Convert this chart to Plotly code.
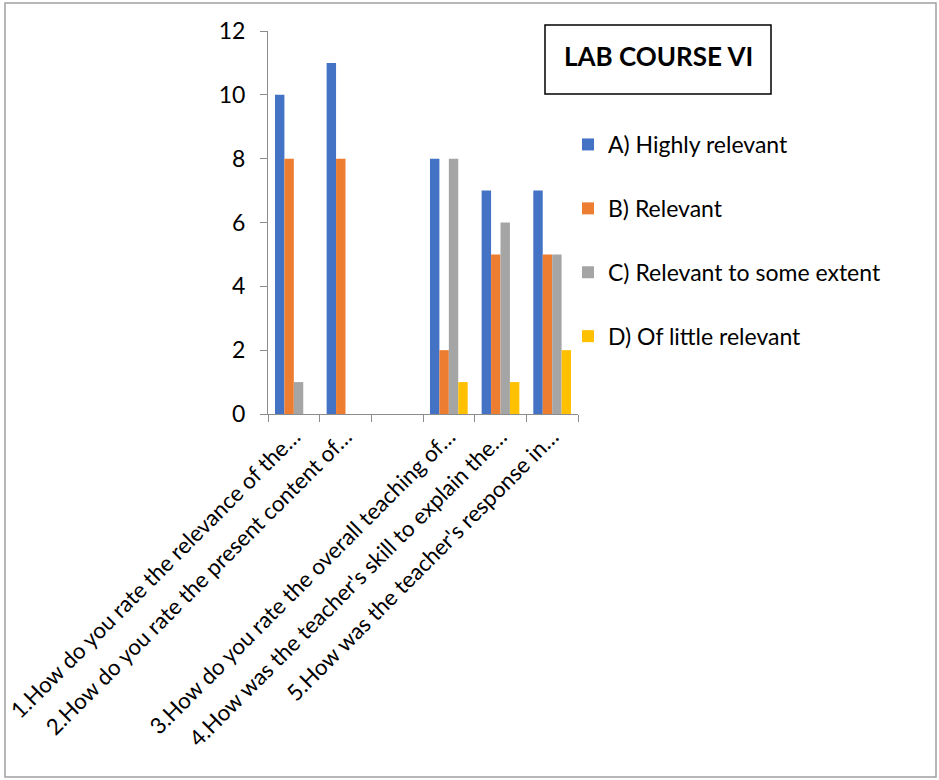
import plotly.graph_objects as go

questions = [
    "1.How do you rate the relevance of the…",
    "2.How do you rate the present content of…",
    " ",
    "3.How do you rate the overall teaching of…",
    "4.How was the teacher's skill to explain the…",
    "5.How was the teacher's response in…",
]
highly_relevant = [10, 11, 0, 8, 7, 7]
relevant = [8, 8, 0, 2, 5, 5]
some_extent = [1, 0, 0, 8, 6, 5]
little_relevant = [0, 0, 0, 1, 1, 2]

series = [
    ("A) Highly relevant", highly_relevant, "#4472C4"),
    ("B) Relevant", relevant, "#ED7D31"),
    ("C) Relevant to some extent", some_extent, "#A5A5A5"),
    ("D) Of little relevant", little_relevant, "#FFC000"),
]

FONT = "Lato, Calibri, sans-serif"

fig = go.Figure()
for i, (name, vals, color) in enumerate(series):
    fig.add_trace(go.Bar(
        x=questions, y=vals, name=name,
        marker=dict(color=color, line=dict(width=0)),
        legendgroup=str(i)
    ))

# plot area in pixels: x 268-578, y 31-414
W, H = 939, 780
L, R, T, B = 268, 578, 31, 414


def px(x):
    return (x - L) / (R - L)


def py(y):
    return (B - y) / (B - T)


fig.update_layout(
    width=W, height=H,
    margin=dict(l=L, r=W - R, t=T, b=H - B, autoexpand=False),
    paper_bgcolor="white", plot_bgcolor="white",
    font=dict(family=FONT, color="#000000"),
    barmode="group", bargap=0.27, bargroupgap=0,
    showlegend=True,
    legend=dict(
        x=px(568), y=py(123), xanchor="left", yanchor="top",
        font=dict(size=23, color="#000000"),
        tracegroupgap=31, bgcolor="rgba(0,0,0,0)"
    ),
    xaxis=dict(
        type="category", showgrid=False,
        showline=True, linecolor="#8C8C8C", linewidth=1,
        ticks="outside", tickson="boundaries", ticklen=7, tickcolor="#8C8C8C",
        tickangle=-45, tickfont=dict(size=22.3, color="#000000")
    ),
    yaxis=dict(
        range=[0, 12], dtick=2, showgrid=False,
        showline=True, linecolor="#8C8C8C", linewidth=1,
        ticks="outside", ticklen=7, tickcolor="#8C8C8C",
        ticklabelstandoff=10,
        tickfont=dict(size=23, color="#000000"), zeroline=False
    ),
    shapes=[
        dict(type="rect", xref="paper", yref="paper",
             x0=px(5), x1=px(936), y0=py(777), y1=py(3),
             line=dict(color="#A0A0A0", width=1.5), layer="below"),
        dict(type="rect", xref="paper", yref="paper",
             x0=px(545), x1=px(771), y0=py(94), y1=py(25),
             line=dict(color="#000000", width=1.5)),
    ],
    annotations=[
        dict(text="<b>LAB COURSE VI</b>", xref="paper", yref="paper",
             x=px(658), y=py(56), xanchor="center", yanchor="middle",
             showarrow=False, font=dict(size=26, color="#000000"))
    ],
)

fig.write_html("out.html", config={"displayModeBar": False},
               post_script="document.body.style.margin='0';")
